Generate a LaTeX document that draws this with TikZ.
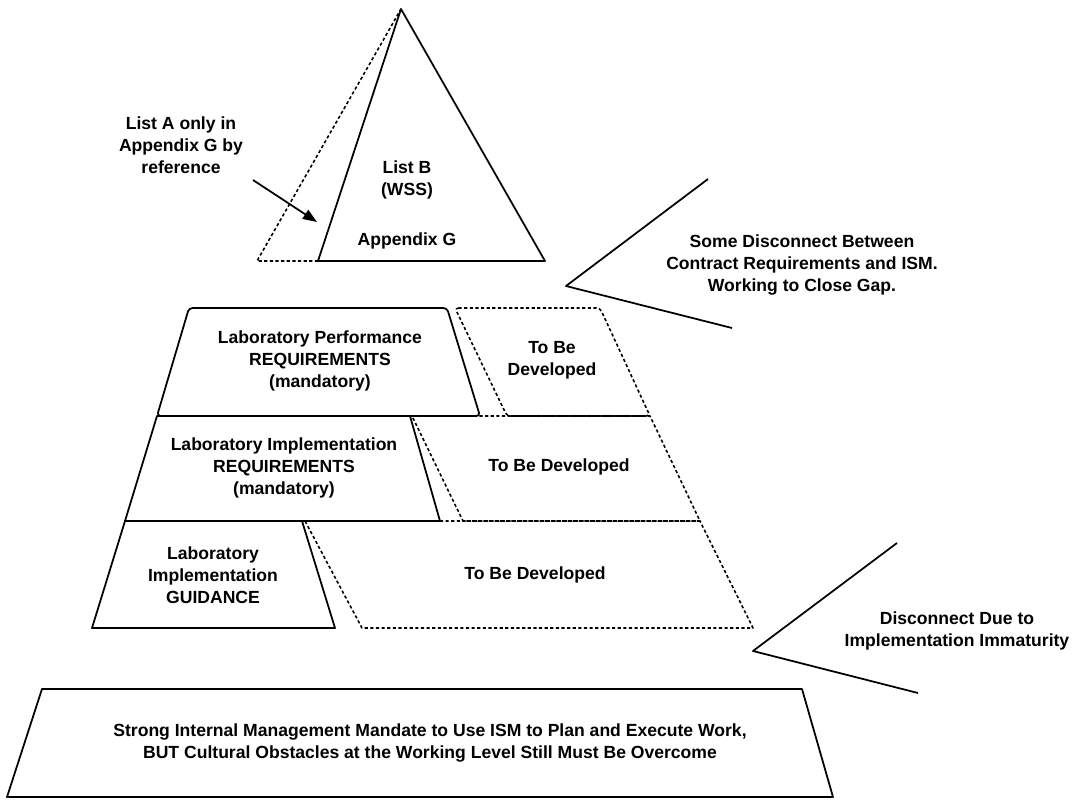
\documentclass[tikz,border=0pt]{standalone}
\usepackage{fontspec}
\setmainfont{Liberation Sans}
\usetikzlibrary{arrows.meta}

\begin{document}
\begin{tikzpicture}[x=0.02cm,y=-0.02cm,line width=1pt,line join=round,
    lbl/.style={align=center,inner sep=0pt,font=\bfseries\fontsize{10}{12.5}\selectfont},
    tbd/.style={line width=0.9pt,dash pattern=on 1.8pt off 1.4pt},
    >={Triangle[length=8pt,width=6pt]}]
  \useasboundingbox (0,0) rectangle (1080,799);

  % top triangle
  \draw[tbd] (318,261) -- (257,261) -- (401,9);
  \draw (401,9) -- (545,261) -- (318,261) -- cycle;
  \node[lbl] (listb) at (407,180) {List B\\(WSS)};
  \node[lbl] (appg)  at (407,241) {Appendix G};
  \node[lbl] (lista) at (181,145) {List A only in\\Appendix G by\\reference};
  \coordinate (lastart) at (253,180);
  \coordinate (latip)   at (317,222);
  \draw[->] (lastart) -- (latip);

  % pyramid, solid part
  \draw[rounded corners=2pt] (157,416) -- (189,308) -- (447,308) -- (480,416) -- cycle;
  \draw (125,521) -- (157,416) -- (410,416) -- (440,521) -- cycle;
  \draw (92,628) -- (125,521) -- (302,521) -- (335,628) -- cycle;
  % pyramid, part still to come
  \draw[tbd,rounded corners=2pt] (455,308) -- (600,308) -- (650,416) -- (507,416) -- cycle;
  \draw[tbd] (412,416) -- (650,416) -- (700,521) -- (463,521) -- cycle;
  \draw[tbd] (305,521) -- (700,521) -- (753,628) -- (362,628) -- cycle;

  \node[lbl] (perf) at (320,361) {Laboratory Performance\\REQUIREMENTS\\(mandatory)};
  \node[lbl] (todo1) at (552,360) {To Be\\Developed};
  \node[lbl] (impl) at (284,468) {Laboratory Implementation\\REQUIREMENTS\\(mandatory)};
  \node[lbl] (todo2) at (559,467) {To Be Developed};
  \node[lbl] (guid) at (213,575) {Laboratory\\Implementation\\GUIDANCE};
  \node[lbl] (todo3) at (535,575) {To Be Developed};

  % gaps
  \draw (708,179) -- (566,286) -- (732,328);
  \node[lbl] (gaptop) at (802,265) {Some Disconnect Between\\Contract Requirements and ISM.\\Working to Close Gap.};
  \draw (897,543) -- (753,651) -- (918,693);
  \node[lbl] (gaplow) at (957,631) {Disconnect Due to\\Implementation Immaturity};

  % base
  \draw (7,797) -- (42,689) -- (802,689) -- (833,797) -- cycle;
  \node[lbl] (mandate) at (430,743) {Strong Internal Management Mandate to Use ISM to Plan and Execute Work,\\BUT Cultural Obstacles at the Working Level Still Must Be Overcome};
\end{tikzpicture}
\end{document}
